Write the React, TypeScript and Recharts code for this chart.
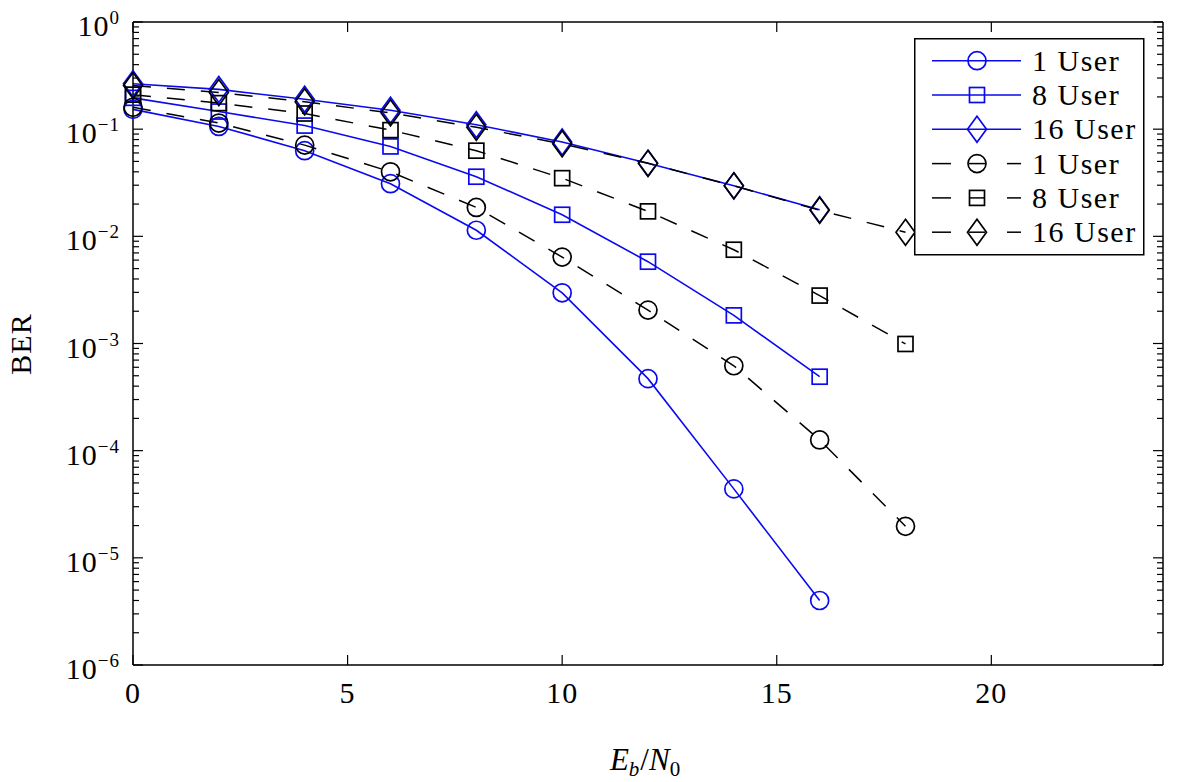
import { Legend, Line, LineChart, XAxis, YAxis } from "recharts";

const ebn0 = [0, 2, 4, 6, 8, 10, 12, 14, 16, 18];
// solid blue curves (simulated)
const sim1 = [0.153, 0.106, 0.063, 0.031, 0.0114, 0.00297, 0.00047, 0.000044, 0.000004];
const sim8 = [0.196, 0.146, 0.108, 0.069, 0.036, 0.0159, 0.0058, 0.00183, 0.00049];
const sim16 = [0.265, 0.235, 0.19, 0.15, 0.11, 0.076, 0.048, 0.0296, 0.0177];
// dashed black curves
const ref1 = [0.16, 0.114, 0.071, 0.04, 0.0186, 0.0064, 0.00205, 0.00062, 0.000126, 0.0000197];
const ref8 = [0.21, 0.175, 0.14, 0.098, 0.063, 0.0349, 0.0171, 0.0075, 0.0028, 0.00099];
const ref16 = [0.255, 0.22, 0.18, 0.142, 0.104, 0.073, 0.048, 0.0296, 0.0175, 0.0109];

const userLabels = ["1 User", "8 User", "16 User"];
const xTicks = [0, 5, 10, 15, 20];
const yDecades = [-6, -5, -4, -3, -2, -1, 0];
const yMinorSteps = [2, 3, 4, 5, 6, 7, 8, 9];

const BLUE = "#0a0aee";
const FONT = "'Liberation Serif', 'DejaVu Serif', serif";

const yTicks: number[] = [];
yDecades.forEach((d) => {
  yTicks.push(Math.pow(10, d));
  if (d < 0) yMinorSteps.forEach((m) => yTicks.push(m * Math.pow(10, d)));
});

const rows = ebn0.map((x, i) => ({
  x,
  s1: sim1[i],
  s8: sim8[i],
  s16: sim16[i],
  r1: ref1[i],
  r8: ref8[i],
  r16: ref16[i],
}));

type Shape = "circle" | "square" | "diamond";

const series: { key: string; name: string; color: string; dashed: boolean; shape: Shape }[] = [
  { key: "s1", name: userLabels[0], color: BLUE, dashed: false, shape: "circle" },
  { key: "s8", name: userLabels[1], color: BLUE, dashed: false, shape: "square" },
  { key: "s16", name: userLabels[2], color: BLUE, dashed: false, shape: "diamond" },
  { key: "r1", name: userLabels[0], color: "#000", dashed: true, shape: "circle" },
  { key: "r8", name: userLabels[1], color: "#000", dashed: true, shape: "square" },
  { key: "r16", name: userLabels[2], color: "#000", dashed: true, shape: "diamond" },
];

function Marker({ shape, cx, cy, color }: { shape: Shape; cx: number; cy: number; color: string }) {
  const common = { fill: "none", stroke: color, strokeWidth: 1.7 };
  if (shape === "circle") return <circle cx={cx} cy={cy} r={9} {...common} />;
  if (shape === "square") return <rect x={cx - 7.5} y={cy - 7.5} width={15} height={15} {...common} />;
  return <polygon points={`${cx},${cy - 13} ${cx + 9.5},${cy} ${cx},${cy + 13} ${cx - 9.5},${cy}`} {...common} />;
}

const isMajor = (v: number) => Math.abs(Math.log10(v) - Math.round(Math.log10(v))) < 1e-6;

function LeftTick({ x, y, payload }: any) {
  const v = payload.value;
  const major = isMajor(v);
  const e = Math.round(Math.log10(v));
  return (
    <g>
      <line x1={x} x2={x + (major ? 10 : 6)} y1={y} y2={y} stroke="#000" strokeWidth={1.2} />
      {major && (
        <text x={x - 13} y={y + 14} textAnchor="end" fontFamily={FONT} fontSize={30} fill="#000" letterSpacing={1}>
          <tspan>10</tspan>
          <tspan dy={-12} fontSize={19}>{e === 0 ? "0" : "\u2212" + -e}</tspan>
        </text>
      )}
    </g>
  );
}

function RightTick({ x, y, payload }: any) {
  const major = isMajor(payload.value);
  return <line x1={x} x2={x - (major ? 10 : 6)} y1={y} y2={y} stroke="#000" strokeWidth={1.2} />;
}

function BottomTick({ x, y, payload }: any) {
  return (
    <g>
      <line x1={x} x2={x} y1={y} y2={y - 10} stroke="#000" strokeWidth={1.2} />
      <text x={x} y={y + 38} textAnchor="middle" fontFamily={FONT} fontSize={30} fill="#000" letterSpacing={1}>
        {payload.value}
      </text>
    </g>
  );
}

function TopTick({ x, y }: any) {
  return <line x1={x} x2={x} y1={y} y2={y + 10} stroke="#000" strokeWidth={1.2} />;
}

function LegendBox() {
  return (
    <svg width={231} height={218} style={{ display: "block" }}>
      <rect x={0.75} y={0.75} width={229} height={216} fill="#fff" stroke="#000" strokeWidth={1.5} />
      {series.map((s, i) => {
        const cy = 22.7 + i * 34.3;
        return (
          <g key={s.key}>
            {s.dashed ? (
              <g stroke={s.color} strokeWidth={1.5}>
                <line x1={18} x2={37} y1={cy} y2={cy} />
                <line x1={55} x2={71} y1={cy} y2={cy} />
                <line x1={93} x2={107} y1={cy} y2={cy} />
              </g>
            ) : (
              <line x1={18} x2={107} y1={cy} y2={cy} stroke={s.color} strokeWidth={1.6} />
            )}
            <Marker shape={s.shape} cx={63} cy={cy} color={s.color} />
            <text x={118} y={cy + 10} fontFamily={FONT} fontSize={30} fill="#000" letterSpacing={1.5}>
              {s.name}
            </text>
          </g>
        );
      })}
    </svg>
  );
}

export default function App() {
  return (
    <div style={{ position: "absolute", left: 0, top: 0, width: 1200, height: 782, background: "#fff" }}>
      <LineChart width={1200} height={782} data={rows} margin={{ top: 0, right: 0, bottom: 0, left: 0 }}>
        <XAxis
          xAxisId="b"
          dataKey="x"
          type="number"
          domain={[0, 24]}
          ticks={xTicks}
          interval={0}
          height={117}
          tickLine={false}
          tickSize={0}
          tickMargin={0}
          axisLine={{ stroke: "#000", strokeWidth: 1.5 }}
          tick={<BottomTick />}
        />
        <XAxis
          xAxisId="t"
          orientation="top"
          dataKey="x"
          type="number"
          domain={[0, 24]}
          ticks={xTicks}
          interval={0}
          height={22}
          tickLine={false}
          tickSize={0}
          tickMargin={0}
          axisLine={{ stroke: "#000", strokeWidth: 1.5 }}
          tick={<TopTick />}
        />
        <YAxis
          yAxisId="l"
          type="number"
          scale="log"
          domain={[1e-6, 1]}
          allowDataOverflow
          ticks={yTicks}
          interval={0}
          width={133}
          tickLine={false}
          tickSize={0}
          tickMargin={0}
          axisLine={{ stroke: "#000", strokeWidth: 1.5 }}
          tick={<LeftTick />}
        />
        <YAxis
          yAxisId="r"
          orientation="right"
          type="number"
          scale="log"
          domain={[1e-6, 1]}
          allowDataOverflow
          ticks={yTicks}
          interval={0}
          width={37}
          tickLine={false}
          tickSize={0}
          tickMargin={0}
          axisLine={{ stroke: "#000", strokeWidth: 1.5 }}
          tick={<RightTick />}
        />
        {series.map((s) => (
          <Line
            key={s.key}
            xAxisId="b"
            yAxisId="l"
            dataKey={s.key}
            name={s.name}
            type="linear"
            stroke={s.color}
            strokeWidth={s.dashed ? 1.5 : 1.6}
            strokeDasharray={s.dashed ? "18 16" : undefined}
            isAnimationActive={false}
            activeDot={false}
            dot={(p: any) =>
              p.cy == null || Number.isNaN(p.cy) ? (
                <g key={`${s.key}-${p.index}`} />
              ) : (
                <Marker key={`${s.key}-${p.index}`} shape={s.shape} cx={p.cx} cy={p.cy} color={s.color} />
              )
            }
          />
        ))}
        <Legend
          layout="vertical"
          align="center"
          verticalAlign="middle"
          wrapperStyle={{ left: 914, top: 38, width: 231, height: 218 }}
          content={() => <LegendBox />}
        />
      </LineChart>
      <svg
        width={1200}
        height={782}
        style={{ position: "absolute", left: 0, top: 0, pointerEvents: "none" }}
      >
        <text
          transform="translate(31 344) rotate(-90)"
          textAnchor="middle"
          fontFamily={FONT}
          fontSize={30}
          fill="#000"
          letterSpacing={1}
        >
          BER
        </text>
        <text x={645} y={770} textAnchor="middle" fontFamily={FONT} fontSize={31} fill="#000">
          <tspan fontStyle="italic">E</tspan>
          <tspan fontStyle="italic" fontSize={21} dy={6}>b</tspan>
          <tspan dy={-6} dx={1}>/</tspan>
          <tspan fontStyle="italic">N</tspan>
          <tspan fontSize={21} dy={6}>0</tspan>
        </text>
      </svg>
    </div>
  );
}
